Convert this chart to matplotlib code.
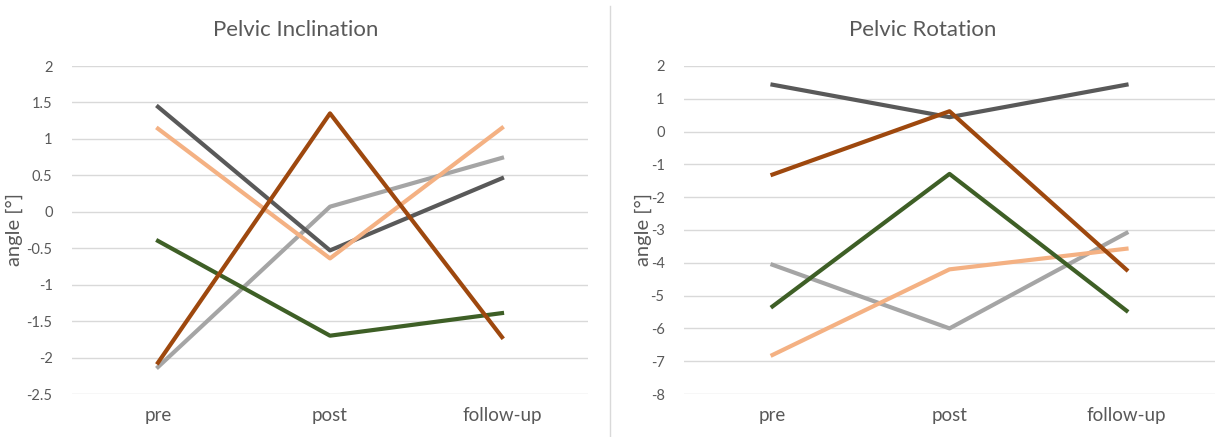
import matplotlib as mpl
mpl.use('Agg')
import matplotlib.pyplot as plt
from matplotlib.lines import Line2D

plt.rcParams['font.family'] = ['Lato', 'DejaVu Sans']

phases = ['pre', 'post', 'follow-up']

# Pelvic inclination (deg)
incl_dark = [1.44, -0.53, 0.46]
incl_brown = [-2.07, 1.35, -1.72]
incl_peach = [1.14, -0.64, 1.15]
incl_light = [-2.13, 0.07, 0.74]
incl_green = [-0.40, -1.70, -1.39]

# Pelvic rotation (deg)
rot_dark = [1.43, 0.44, 1.43]
rot_brown = [-1.31, 0.62, -4.21]
rot_green = [-5.33, -1.29, -5.46]
rot_light = [-4.06, -6.00, -3.09]
rot_peach = [-6.81, -4.20, -3.57]

colors = {'dark': '#595959', 'brown': '#9E480E', 'peach': '#F4B183',
          'light': '#A5A5A5', 'green': '#3E5F26'}
txt = '#595959'

W, H = 1225, 437
fig = plt.figure(figsize=(W/100, H/100), dpi=100)
ax1 = fig.add_axes([72/W, 1-394/H, (588-72)/W, (394-66)/H])
ax2 = fig.add_axes([684/W, 1-394/H, (1215-684)/W, (394-66)/H])

def style(ax, title, title_x, lo, hi, step, ylab_x):
    ax.set_xlim(-0.5, 2.5)
    ax.set_ylim(lo, hi)
    ticks = []
    v = lo
    while v <= hi + 1e-9:
        ticks.append(round(v, 2))
        v += step
    ax.set_yticks(ticks)
    ax.set_yticklabels([('%g' % t) for t in ticks])
    ax.set_xticks(range(len(phases)))
    ax.set_xticklabels(phases, fontsize=13.5, color=txt)
    ax.grid(axis='y', color='#D9D9D9', lw=1)
    ax.set_axisbelow(True)
    for s in ax.spines.values():
        s.set_visible(False)
    ax.tick_params(axis='both', length=0, colors=txt)
    ax.tick_params(axis='y', labelsize=10.5, pad=14)
    ax.tick_params(axis='x', pad=9)
    ax.set_ylabel('angle [°]', fontsize=14.5, color=txt)
    # right edge of the rotated label, centre of plot height
    ax.yaxis.set_label_coords(ylab_x/W, 1-230/H, transform=fig.transFigure)
    fig.text(title_x/W, 1-30/H, title, fontsize=16, color=txt,
             ha='center', va='center')

x = list(range(len(phases)))
lw = 3.0
ax1.plot(x, incl_light, color=colors['light'], lw=lw)
ax1.plot(x, incl_green, color=colors['green'], lw=lw)
ax1.plot(x, incl_dark, color=colors['dark'], lw=lw)
ax1.plot(x, incl_peach, color=colors['peach'], lw=lw)
ax1.plot(x, incl_brown, color=colors['brown'], lw=lw)
style(ax1, 'Pelvic Inclination', 296, -2.5, 2, 0.5, 23)

ax2.plot(x, rot_light, color=colors['light'], lw=lw)
ax2.plot(x, rot_peach, color=colors['peach'], lw=lw)
ax2.plot(x, rot_green, color=colors['green'], lw=lw)
ax2.plot(x, rot_dark, color=colors['dark'], lw=lw)
ax2.plot(x, rot_brown, color=colors['brown'], lw=lw)
style(ax2, 'Pelvic Rotation', 923, -8, 2, 1, 652)

fig.add_artist(Line2D([610/W, 610/W], [0, 1-6/H], color='#D9D9D9', lw=1,
                      transform=fig.transFigure))

fig.savefig('out.png', dpi=100)
